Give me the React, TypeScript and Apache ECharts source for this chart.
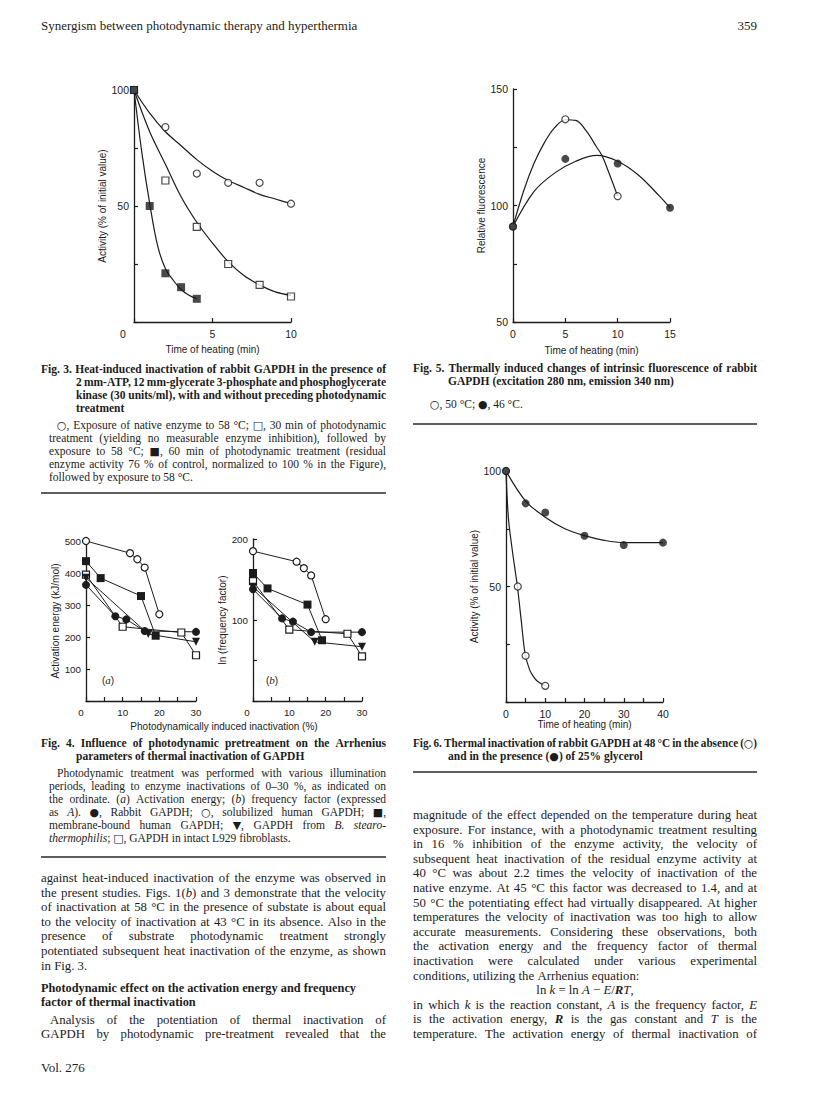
import React, { useEffect, useRef } from "react";
import * as echarts from "echarts";

// ---------------- data ----------------
// Fig. 3
const fig3NativeTime = [0, 2, 4, 6, 8, 10];
const fig3NativeActivity = [100, 84, 64, 60, 60, 51];
const fig3Pdt30Time = [0, 2, 4, 6, 8, 10];
const fig3Pdt30Activity = [100, 61, 41, 25, 16, 11];
const fig3Pdt60Time = [0, 1, 2, 3, 4];
const fig3Pdt60Activity = [100, 50, 21, 15, 10];
const fig3NativeCurveT = [0, 1, 2, 3, 4, 5, 6, 7, 8, 9, 10];
const fig3NativeCurveA = [100, 90, 82, 76, 70, 65, 61, 58, 55, 53, 51];
const fig3Pdt30CurveT = [0, 1, 2, 3, 4, 5, 6, 7, 8, 9, 10];
const fig3Pdt30CurveA = [100, 82, 68, 54, 43, 34, 26, 20, 16, 13, 11.5];
const fig3Pdt60CurveT = [0, 0.5, 1, 1.5, 2, 2.5, 3, 3.5, 4];
const fig3Pdt60CurveA = [100, 73, 51, 33, 23, 18, 14, 11.5, 10];
const fig3YLabels = [50, 100];

// Fig. 5
const fig5Time50 = [0, 5, 10];
const fig5Fluor50 = [91, 137, 104];
const fig5Time46 = [0, 5, 10, 15];
const fig5Fluor46 = [91, 120, 118, 99];
const fig5Curve50T = [0, 1, 2, 3, 4, 5, 6, 7, 8, 8.5, 9, 10];
const fig5Curve50F = [91, 106, 118, 127, 133.5, 136.8, 136.5, 132, 125, 121.5, 116, 104];
const fig5Curve46T = [0, 2, 4, 6, 8, 10, 12, 14, 15];
const fig5Curve46F = [91, 106, 114, 119, 121.5, 119, 113, 104, 99];

// Fig. 4 (x = photodynamically induced inactivation, %)
const fig4RabbitX = [0, 8, 11, 16, 30];
const fig4RabbitE = [363, 265, 255, 219, 216];
const fig4RabbitLnA = [138, 102, 98, 85, 85];
const fig4SolubX = [0, 12, 14, 16, 20];
const fig4SolubE = [500, 462, 443, 417, 271];
const fig4SolubLnA = [185, 172, 164, 155, 101];
const fig4MembX = [0, 4, 15, 19];
const fig4MembE = [437, 384, 328, 204];
const fig4MembLnA = [158, 139, 119, 75];
const fig4BstX = [0, 17, 30];
const fig4BstE = [385, 209, 185];
const fig4BstLnA = [141, 73, 67];
const fig4L929X = [0, 10, 26, 30];
const fig4L929E = [395, 232, 214, 143];
const fig4L929LnA = [148, 88, 83, 55];
const fig4XLabels = [0, 10, 20, 30];
const fig4aYLabels = [100, 200, 300, 400, 500];
const fig4bYLabels = [100, 200];

// Fig. 6
const fig6TimeNoGly = [0, 3, 5, 10];
const fig6ActNoGly = [100, 50, 20, 7];
const fig6TimeGly = [0, 5, 10, 20, 30, 40];
const fig6ActGly = [100, 86, 82, 72, 68, 69];
const fig6CurveNoGlyT = [0, 0.6, 1.5, 2.9, 3.9, 4.85, 6, 7, 8, 10];
const fig6CurveNoGlyA = [100, 80, 67, 50, 35, 21, 14, 11, 9, 7];
const fig6CurveGlyT = [0, 5, 10, 15, 20, 25, 30, 35, 40];
const fig6CurveGlyA = [100, 87, 80, 75, 72, 70, 69, 69, 69];
const fig6YLabels = [50, 100];

// ---------------- styling ----------------
const SERIF = '"Liberation Serif","Times New Roman","DejaVu Serif",serif';
const SANS = '"Liberation Sans",Arial,Helvetica,sans-serif';
const SYMF = '"DejaVu Sans",sans-serif';
const INK = "#1c1c1c";
const SYMBOLS = "○●■□▼";

const zip = (xs: number[], ys: number[]) => xs.map((x, i) => [x, ys[i]]);

type Run = { t: string; b: boolean; i: boolean; s?: boolean };
function parseRuns(s: string): Run[] {
  const runs: Run[] = [];
  let b = false, it = false, cur = "";
  const flush = () => {
    if (cur) runs.push({ t: cur, b, i: it });
    cur = "";
  };
  for (const ch of s) {
    if (ch === "*" || ch === "_") {
      flush();
      if (ch === "*") b = !b; else it = !it;
    } else if (SYMBOLS.includes(ch)) {
      flush();
      runs.push({ t: ch, b, i: false, s: true });
    } else cur += ch;
  }
  flush();
  return runs;
}
function splitWords(runs: Run[]): Run[][] {
  const ws: Run[][] = [[]];
  for (const r of runs) {
    const parts = r.t.split(" ");
    parts.forEach((p, k) => {
      if (k > 0) ws.push([]);
      if (p) ws[ws.length - 1].push({ ...r, t: p });
    });
  }
  return ws.filter((w) => w.length);
}
const fontOf = (r: Run, size: number) =>
  r.s
    ? `${(size * 0.95).toFixed(2)}px ${SYMF}`
    : `${r.i ? "italic " : ""}${r.b ? "bold " : ""}${size.toFixed(2)}px ${SERIF}`;

type Line = { s: string; x: number; y: number; w?: number; j?: boolean; size: number; align?: string };

function layoutLines(lines: Line[]): any[] {
  const ctx = document.createElement("canvas").getContext("2d") as CanvasRenderingContext2D;
  const measure = (r: Run, size: number) => {
    ctx.font = fontOf(r, size);
    return ctx.measureText(r.t).width;
  };
  const out: any[] = [];
  const MINGAP = 2.2;
  for (const L of lines) {
    const ws = splitWords(parseRuns(L.s));
    const size = L.size;
    const widths = ws.map((w) => w.map((r) => measure(r, size)));
    const wordW = widths.map((a) => a.reduce((p, c) => p + c, 0));
    const total = wordW.reduce((p, c) => p + c, 0);
    let sx = 1;
    if (L.w && total + MINGAP * (ws.length - 1) > L.w) sx = L.w / (total + MINGAP * (ws.length - 1));
    const space = measure({ t: " ", b: false, i: false }, size);
    let gap = space;
    if (L.j && L.w && ws.length > 1) gap = Math.max(MINGAP, (L.w / sx - total) / (ws.length - 1));
    const lineW = (total + gap * (ws.length - 1)) * sx;
    let x = L.x;
    if (L.align === "center") x = L.x - lineW / 2;
    else if (L.align === "right") x = L.x - lineW;
    const x0 = x;
    let off = 0;
    ws.forEach((w, k) => {
      let roff = off;
      w.forEach((r, q) => {
        out.push({
          type: "text",
          x: x0 + roff * sx,
          y: L.y + (r.s ? 0.5 : 0),
          scaleX: sx,
          silent: true,
          style: { text: r.t, font: fontOf(r, size), fill: INK, textAlign: "left", textVerticalAlign: "middle" },
        });
        roff += widths[k][q];
      });
      off += wordW[k] + gap;
    });
  }
  return out;
}

const LX = 41, LW = 345, RX = 413, RW = 344;
const CAP = 11.5, BODY = 12.8;

const textLines: Line[] = [
  { s: "Synergism between photodynamic therapy and hyperthermia", x: LX, y: 25, size: 13 },
  { s: "359", x: RX + RW, y: 25, size: 13, align: "right" },
  // Fig. 3 caption
  { s: "*Fig. 3. Heat-induced inactivation of rabbit GAPDH in the presence of*", x: LX, y: 369, w: LW, j: true, size: CAP },
  { s: "*2 mm-ATP, 12 mm-glycerate 3-phosphate and phosphoglycerate*", x: 76, y: 382, w: 310, j: true, size: CAP },
  { s: "*kinase (30 units/ml), with and without preceding photodynamic*", x: 76, y: 395, w: 310, j: true, size: CAP },
  { s: "*treatment*", x: 76, y: 408, size: CAP },
  { s: "○, Exposure of native enzyme to 58 °C; □, 30 min of photodynamic", x: 57, y: 425, w: 329, j: true, size: CAP },
  { s: "treatment (yielding no measurable enzyme inhibition), followed by", x: 49, y: 438, w: 337, j: true, size: CAP },
  { s: "exposure to 58 °C; ■, 60 min of photodynamic treatment (residual", x: 49, y: 451, w: 337, j: true, size: CAP },
  { s: "enzyme activity 76 % of control, normalized to 100 % in the Figure),", x: 49, y: 464, w: 337, j: true, size: CAP },
  { s: "followed by exposure to 58 °C.", x: 49, y: 477, size: CAP },
  // Fig. 5 caption
  { s: "*Fig. 5. Thermally induced changes of intrinsic fluorescence of rabbit*", x: RX, y: 368, w: RW, j: true, size: CAP },
  { s: "*GAPDH (excitation 280 nm, emission 340 nm)*", x: RX + 35, y: 381, size: CAP },
  { s: "○, 50 °C; ●, 46 °C.", x: RX + 17, y: 404, size: CAP },
  // Fig. 4 caption
  { s: "*Fig. 4. Influence of photodynamic pretreatment on the Arrhenius*", x: LX, y: 743, w: LW, j: true, size: CAP },
  { s: "*parameters of thermal inactivation of GAPDH*", x: 76, y: 756, size: CAP },
  { s: "Photodynamic treatment was performed with various illumination", x: 57, y: 773, w: 329, j: true, size: CAP },
  { s: "periods, leading to enzyme inactivations of 0–30 %, as indicated on", x: 49, y: 786, w: 337, j: true, size: CAP },
  { s: "the ordinate. (_a_) Activation energy; (_b_) frequency factor (expressed", x: 49, y: 799, w: 337, j: true, size: CAP },
  { s: "as _A_). ●, Rabbit GAPDH; ○, solubilized human GAPDH; ■,", x: 49, y: 812, w: 337, j: true, size: CAP },
  { s: "membrane-bound human GAPDH; ▼, GAPDH from _B. stearo-_", x: 49, y: 825, w: 337, j: true, size: CAP },
  { s: "_thermophilis_; □, GAPDH in intact L929 fibroblasts.", x: 49, y: 838, size: CAP },
  // Fig. 6 caption
  { s: "*Fig. 6. Thermal inactivation of rabbit GAPDH at 48 °C in the absence (○)*", x: RX, y: 743, w: RW, j: true, size: CAP },
  { s: "*and in the presence (●) of 25% glycerol*", x: RX + 35, y: 756, size: CAP },
  // left body
  { s: "against heat-induced inactivation of the enzyme was observed in", x: LX, y: 878, w: LW, j: true, size: BODY },
  { s: "the present studies. Figs. 1(_b_) and 3 demonstrate that the velocity", x: LX, y: 892.6, w: LW, j: true, size: BODY },
  { s: "of inactivation at 58 °C in the presence of substate is about equal", x: LX, y: 907.2, w: LW, j: true, size: BODY },
  { s: "to the velocity of inactivation at 43 °C in its absence. Also in the", x: LX, y: 921.8, w: LW, j: true, size: BODY },
  { s: "presence of substrate photodynamic treatment strongly", x: LX, y: 936.4, w: LW, j: true, size: BODY },
  { s: "potentiated subsequent heat inactivation of the enzyme, as shown", x: LX, y: 951, w: LW, j: true, size: BODY },
  { s: "in Fig. 3.", x: LX, y: 965.6, size: BODY },
  { s: "*Photodynamic effect on the activation energy and frequency*", x: LX, y: 988, size: 12.3 },
  { s: "*factor of thermal inactivation*", x: LX, y: 1002, size: 12.3 },
  { s: "Analysis of the potentiation of thermal inactivation of", x: LX + 9, y: 1020, w: LW - 9, j: true, size: BODY },
  { s: "GAPDH by photodynamic pre-treatment revealed that the", x: LX, y: 1034.4, w: LW, j: true, size: BODY },
  { s: "Vol. 276", x: LX, y: 1067, size: 13 },
  // right body
  { s: "magnitude of the effect depended on the temperature during heat", x: RX, y: 815, w: RW, j: true, size: BODY },
  { s: "exposure. For instance, with a photodynamic treatment resulting", x: RX, y: 829.6, w: RW, j: true, size: BODY },
  { s: "in 16 % inhibition of the enzyme activity, the velocity of", x: RX, y: 844.2, w: RW, j: true, size: BODY },
  { s: "subsequent heat inactivation of the residual enzyme activity at", x: RX, y: 858.8, w: RW, j: true, size: BODY },
  { s: "40 °C was about 2.2 times the velocity of inactivation of the", x: RX, y: 873.4, w: RW, j: true, size: BODY },
  { s: "native enzyme. At 45 °C this factor was decreased to 1.4, and at", x: RX, y: 888, w: RW, j: true, size: BODY },
  { s: "50 °C the potentiating effect had virtually disappeared. At higher", x: RX, y: 902.6, w: RW, j: true, size: BODY },
  { s: "temperatures the velocity of inactivation was too high to allow", x: RX, y: 917.2, w: RW, j: true, size: BODY },
  { s: "accurate measurements. Considering these observations, both", x: RX, y: 931.8, w: RW, j: true, size: BODY },
  { s: "the activation energy and the frequency factor of thermal", x: RX, y: 946.4, w: RW, j: true, size: BODY },
  { s: "inactivation were calculated under various experimental", x: RX, y: 961, w: RW, j: true, size: BODY },
  { s: "conditions, utilizing the Arrhenius equation:", x: RX, y: 975.6, size: BODY },
  { s: "ln _k_ = ln _A_ − _E_/*_R_*_T_,", x: RX + RW / 2, y: 990.2, size: BODY, align: "center" },
  { s: "in which _k_ is the reaction constant, _A_ is the frequency factor, _E_", x: RX, y: 1004.8, w: RW, j: true, size: BODY },
  { s: "is the activation energy, *_R_* is the gas constant and _T_ is the", x: RX, y: 1019.4, w: RW, j: true, size: BODY },
  { s: "temperature. The activation energy of thermal inactivation of", x: RX, y: 1034, w: RW, j: true, size: BODY },
];

const rules = [
  [LX, 493, LX + LW],
  [RX, 424, RX + RW],
  [LX, 857, LX + LW],
  [RX, 772, RX + RW],
];

// ---------------- chart helpers ----------------
const openCircle = { symbol: "circle", symbolSize: 7, itemStyle: { color: "#fff", borderColor: INK, borderWidth: 1.2 } };
const filledCircle = { symbol: "circle", symbolSize: 8, itemStyle: { color: INK } };
const openSquare = { symbol: "rect", symbolSize: 7, itemStyle: { color: "#fff", borderColor: INK, borderWidth: 1.2 } };
const filledSquare = { symbol: "rect", symbolSize: 8, itemStyle: { color: INK } };
const triDown = { symbol: "triangle", symbolRotate: 180, symbolSize: 8, itemStyle: { color: INK } };

function curve(idx: number, xs: number[], ys: number[]) {
  return {
    type: "line", xAxisIndex: idx, yAxisIndex: idx, data: zip(xs, ys), smooth: 0.35,
    showSymbol: false, symbol: "none", silent: true, z: 2,
    lineStyle: { color: INK, width: 1.2 },
  };
}
function marks(idx: number, xs: number[], ys: number[], m: any) {
  return { type: "scatter", xAxisIndex: idx, yAxisIndex: idx, data: zip(xs, ys), silent: true, z: 5, ...m };
}
function polyline(idx: number, xs: number[], ys: number[], m: any) {
  return {
    type: "line", xAxisIndex: idx, yAxisIndex: idx, data: zip(xs, ys), silent: true, z: 3,
    showSymbol: true, ...m, lineStyle: { color: INK, width: 1 },
  };
}

function axisCommon(fontSize: number) {
  return {
    type: "value",
    axisLine: { show: true, onZero: false, lineStyle: { color: INK, width: 1.3 } },
    axisTick: { show: true, inside: true, length: 4, lineStyle: { color: INK, width: 1.2 } },
    splitLine: { show: false },
    nameLocation: "middle",
    nameTextStyle: { color: INK, fontFamily: SANS, fontSize: 10 },
    axisLabel: { color: INK, fontFamily: SANS, fontSize },
  };
}
function xAxis(grid: number, min: number, max: number, interval: number, labels: number[] | null, zeroShift: number, name: string, nameGap: number, fontSize: number) {
  const base: any = axisCommon(fontSize);
  return {
    ...base, gridIndex: grid, min, max, interval, name, nameGap,
    axisLabel: {
      ...base.axisLabel, margin: 6,
      formatter: (v: number) => {
        if (labels && !labels.includes(v)) return "";
        if (v === 0 && zeroShift) return "{z|0}";
        return String(v);
      },
      rich: { z: { padding: [0, zeroShift, 0, 0], fontFamily: SANS, fontSize, color: INK } },
    },
  };
}
function yAxis(grid: number, min: number, max: number, interval: number, labels: number[] | null, name: string, nameGap: number, fontSize: number) {
  const base: any = axisCommon(fontSize);
  return {
    ...base, gridIndex: grid, min, max, interval, name, nameGap,
    axisLabel: {
      ...base.axisLabel, margin: 5,
      formatter: (v: number) => (labels && !labels.includes(v) ? "" : String(v)),
    },
  };
}

function buildOption(): any {
  const graphicEls: any[] = layoutLines(textLines);
  rules.forEach(([x1, y, x2]) =>
    graphicEls.push({ type: "line", silent: true, shape: { x1, y1: y, x2, y2: y }, style: { stroke: "#2a2a2a", lineWidth: 1.5 } })
  );
  graphicEls.push({
    type: "text", x: 224, y: 726, silent: true,
    style: { text: "Photodynamically induced inactivation (%)", font: `10px ${SANS}`, fill: INK, textAlign: "center", textVerticalAlign: "middle" },
  });
  graphicEls.push({
    type: "text", x: 108, y: 680, silent: true,
    style: { text: "({i|a})", font: `10px ${SANS}`, fill: INK, textAlign: "center", textVerticalAlign: "middle", rich: { i: { fontStyle: "italic", fontFamily: SERIF, fontSize: 11 } } },
  });
  graphicEls.push({
    type: "text", x: 272, y: 680, silent: true,
    style: { text: "({i|b})", font: `10px ${SANS}`, fill: INK, textAlign: "center", textVerticalAlign: "middle", rich: { i: { fontStyle: "italic", fontFamily: SERIF, fontSize: 11 } } },
  });

  return {
    animation: false,
    backgroundColor: "#fff",
    grid: [
      { left: 134, top: 90, width: 157, height: 232 },
      { left: 513, top: 89, width: 157, height: 233 },
      { left: 86, top: 541, width: 110, height: 160 },
      { left: 253, top: 539, width: 109, height: 162 },
      { left: 506, top: 471, width: 157, height: 231 },
    ],
    xAxis: [
      xAxis(0, 0, 10, 5, null, 22, "Time of heating (min)", 22, 10.5),
      xAxis(1, 0, 15, 5, null, 0, "Time of heating (min)", 23, 10.5),
      xAxis(2, 0, 30, 5, fig4XLabels, 10, "", 0, 9.8),
      xAxis(3, 0, 30, 5, fig4XLabels, 12, "", 0, 9.8),
      xAxis(4, 0, 40, 5, [0, 10, 20, 30, 40], 0, "Time of heating (min)", 17, 10.5),
    ],
    yAxis: [
      yAxis(0, 0, 100, 25, fig3YLabels, "Activity (% of initial value)", 24, 10.5),
      yAxis(1, 50, 150, 25, [50, 100, 150], "Relative fluorescence", 25, 10.5),
      yAxis(2, 0, 500, 100, fig4aYLabels, "Activation energy (kJ/mol)", 19, 9.8),
      yAxis(3, 0, 200, 50, fig4bYLabels, "ln (frequency factor)", 23, 9.8),
      yAxis(4, 0, 100, 25, fig6YLabels, "Activity (% of initial value)", 22, 10.5),
    ],
    series: [
      // Fig. 3
      curve(0, fig3NativeCurveT, fig3NativeCurveA),
      curve(0, fig3Pdt30CurveT, fig3Pdt30CurveA),
      curve(0, fig3Pdt60CurveT, fig3Pdt60CurveA),
      marks(0, fig3NativeTime, fig3NativeActivity, openCircle),
      marks(0, fig3Pdt30Time, fig3Pdt30Activity, openSquare),
      marks(0, fig3Pdt60Time, fig3Pdt60Activity, filledSquare),
      // Fig. 5
      curve(1, fig5Curve50T, fig5Curve50F),
      curve(1, fig5Curve46T, fig5Curve46F),
      marks(1, fig5Time50, fig5Fluor50, openCircle),
      marks(1, fig5Time46, fig5Fluor46, filledCircle),
      // Fig. 4a
      polyline(2, fig4SolubX, fig4SolubE, openCircle),
      polyline(2, fig4MembX, fig4MembE, filledSquare),
      polyline(2, fig4L929X, fig4L929E, openSquare),
      polyline(2, fig4BstX, fig4BstE, triDown),
      polyline(2, fig4RabbitX, fig4RabbitE, filledCircle),
      // Fig. 4b
      polyline(3, fig4SolubX, fig4SolubLnA, openCircle),
      polyline(3, fig4MembX, fig4MembLnA, filledSquare),
      polyline(3, fig4L929X, fig4L929LnA, openSquare),
      polyline(3, fig4BstX, fig4BstLnA, triDown),
      polyline(3, fig4RabbitX, fig4RabbitLnA, filledCircle),
      // Fig. 6
      curve(4, fig6CurveNoGlyT, fig6CurveNoGlyA),
      curve(4, fig6CurveGlyT, fig6CurveGlyA),
      marks(4, fig6TimeNoGly, fig6ActNoGly, openCircle),
      marks(4, fig6TimeGly, fig6ActGly, filledCircle),
    ],
    graphic: { elements: graphicEls },
  };
}

export default function App() {
  const ref = useRef<HTMLDivElement>(null);
  useEffect(() => {
    if (!ref.current) return;
    const chart = echarts.init(ref.current, null, { renderer: "svg" });
    chart.setOption(buildOption());
    return () => chart.dispose();
  }, []);
  return (
    <div
      ref={ref}
      style={{ position: "absolute", left: 0, top: 0, width: 816, height: 1108, background: "#fff" }}
    />
  );
}
